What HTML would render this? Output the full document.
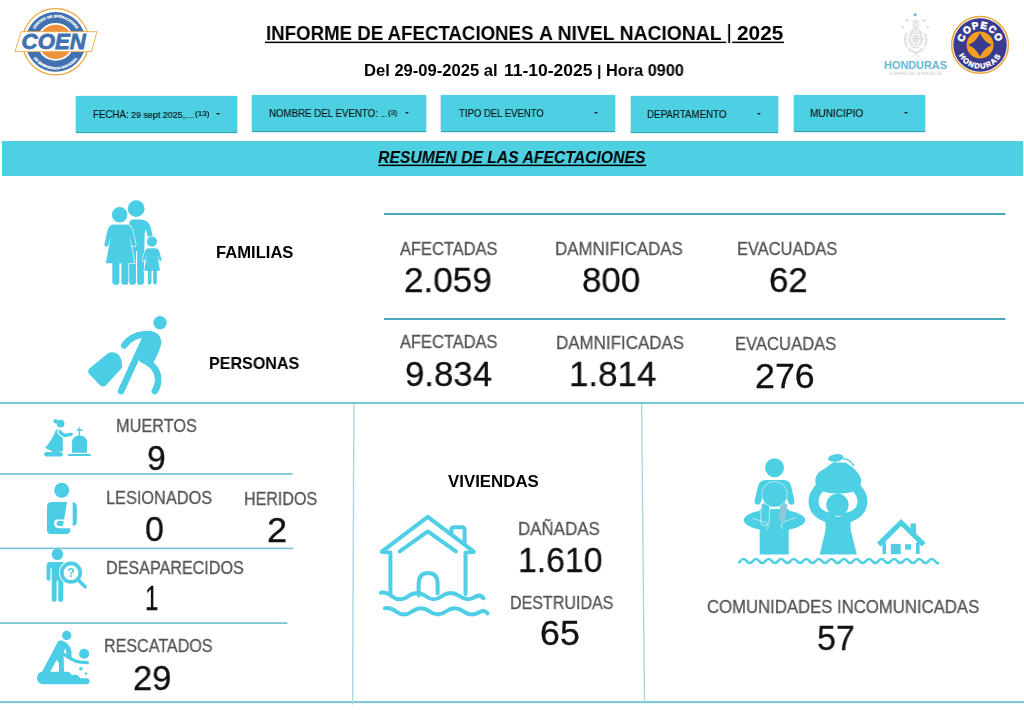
<!DOCTYPE html>
<html lang="es">
<head>
<meta charset="utf-8">
<title>Informe de afectaciones a nivel nacional | 2025</title>
<style>
html,body{margin:0;padding:0;background:#fff;}
body{width:1024px;height:710px;position:relative;overflow:hidden;font-family:"Liberation Sans",sans-serif;}
.t{position:absolute;white-space:nowrap;line-height:1;transform-origin:0 0;margin:0;padding:0;will-change:transform;}
.btn{position:absolute;background:#4dd0e1;height:36px;box-shadow:0 1px 1px rgba(40,160,178,.95),0 0 1.5px rgba(0,60,70,.2);}
.car{position:absolute;width:0;height:0;border-left:2.1px solid transparent;border-right:2.1px solid transparent;border-top:2.2px solid rgba(0,0,0,.82);}
#bannerbg{position:absolute;left:2px;top:141px;width:1021px;height:34.5px;background:#4dd0e1;}
svg{position:absolute;overflow:visible;}
h1{font-size:inherit;}
header,nav,main{display:block;margin:0;padding:0;}
</style>
</head>
<body>
<header>
<!-- COEN logo -->
<svg style="left:10px;top:6px;width:100px;height:80px;" viewBox="0 0 888 710" font-family="Liberation Sans, sans-serif">
  <defs>
    <path id="coenTop" d="M188,318 A217,217 0 0 1 622,318"/>
    <path id="coenBot" d="M160,318 A245,245 0 0 0 650,318"/>
  </defs>
  <circle cx="405" cy="318" r="294" fill="none" stroke="#eaa83f" stroke-width="11"/>
  <circle cx="405" cy="318" r="266" fill="#4171ae"/>
  <circle cx="405" cy="318" r="168" fill="#fff"/>
  <circle cx="405" cy="318" r="152" fill="#ee9140"/>
  <text font-size="31" font-weight="700" fill="#fff" stroke="#fff" stroke-width="2" text-anchor="middle" letter-spacing="1"><textPath href="#coenTop" startOffset="50%">CENTRO DE OPERACIONES</textPath></text>
  <text font-size="31" font-weight="700" fill="#fff" stroke="#fff" stroke-width="2" text-anchor="middle" letter-spacing="1"><textPath href="#coenBot" startOffset="50%">DE EMERGENCIA NACIONAL</textPath></text>
  <path d="M98,228 L772,228 L724,405 L44,405 Z" fill="#fff" stroke="#eaa83f" stroke-width="8" stroke-linejoin="round"/>
  <text x="103" y="385" font-size="204" font-weight="700" font-style="italic" fill="#4171ae" stroke="#4171ae" stroke-width="7" textLength="570" lengthAdjust="spacingAndGlyphs">COEN</text>
</svg>
<!-- HONDURAS crest -->
<svg style="left:878px;top:6px;width:72px;height:80px;" viewBox="0 0 639 710" font-family="Liberation Sans, sans-serif">
  <g fill="#66b4cf">
    <path id="st" d="M330,58 L335,72 L350,72 L338,81 L343,96 L330,87 L317,96 L322,81 L310,72 L325,72 Z"/>
  </g>
  <g fill="#a5cddb">
    <path d="M258,116 L262,125 L271,125 L264,131 L267,140 L258,134 L249,140 L252,131 L245,125 L254,125 Z"/>
    <path d="M405,116 L409,125 L418,125 L411,131 L414,140 L405,134 L396,140 L399,131 L392,125 L401,125 Z"/>
    <path d="M218,176 L222,185 L231,185 L224,191 L227,200 L218,194 L209,200 L212,191 L205,185 L214,185 Z"/>
    <path d="M442,176 L446,185 L455,185 L448,191 L451,200 L442,194 L433,200 L436,191 L429,185 L438,185 Z"/>
    <path d="M285,372 L288,379 L296,379 L290,384 L292,392 L285,387 L278,392 L280,384 L274,379 L282,379 Z"/>
    <path d="M382,372 L385,379 L393,379 L387,384 L389,392 L382,387 L375,392 L377,384 L371,379 L379,379 Z"/>
  </g>
  <g fill="none" stroke="#b8b8b8" stroke-width="5" stroke-linecap="round">
    <ellipse cx="335" cy="292" rx="60" ry="80"/>
    <ellipse cx="335" cy="292" rx="46" ry="64" stroke="#c6c6c6"/>
    <ellipse cx="335" cy="292" rx="26" ry="30" stroke="#bfbfbf"/>
    <path d="M300,290 L370,290 M335,250 L335,335 M312,262 L358,320 M358,262 L312,320" stroke="#c0c0c0" stroke-width="4"/>
    <path d="M296,248 Q335,228 374,248 M296,338 Q335,358 374,338" stroke="#c9c9c9" stroke-width="4"/>
    <path d="M256,232 Q228,300 258,366 Q288,412 335,414 Q382,412 412,366 Q442,300 414,232" stroke="#c4c4c4"/>
    <path d="M240,252 Q222,300 244,350 M430,252 Q448,300 426,350" stroke="#cfcfcf" stroke-width="4"/>
    <path d="M312,132 L358,132 L354,150 L360,168 L350,198 L320,198 L310,168 L316,150 Z" stroke="#bcbcbc"/>
    <path d="M322,150 L348,150 M320,172 L350,172 M335,132 L335,198" stroke="#c8c8c8" stroke-width="4"/>
    <path d="M318,198 Q298,214 284,236 M352,198 Q372,214 386,236" stroke="#c2c2c2"/>
    <path d="M236,268 L264,258 M234,300 L262,296 M238,334 L268,324 M434,268 L406,258 M436,300 L408,296 M432,334 L402,324" stroke="#cacaca" stroke-width="4"/>
    <path d="M304,394 L364,450 M366,394 L306,450" stroke="#bdbdbd" stroke-width="5"/>
    <path d="M268,392 Q300,408 320,404 M402,392 Q370,408 350,404" stroke="#cdcdcd" stroke-width="4"/>
  </g>
  <text x="54" y="558" font-size="96" font-weight="700" fill="#6cb7d0" textLength="558" lengthAdjust="spacingAndGlyphs">HONDURAS</text>
  <text x="100" y="608" font-size="27" fill="#b9b9b9" textLength="460" lengthAdjust="spacing">GOBIERNO DE LA REPÚBLICA</text>
</svg>
<!-- COPECO logo -->
<svg style="left:944px;top:8px;width:72px;height:76px;" viewBox="0 0 673 710" font-family="Liberation Sans, sans-serif">
  <defs>
    <path id="copTop" d="M183,345 A154,154 0 0 1 491,345"/>
    <path id="copBot" d="M116,345 A221,221 0 0 0 558,345"/>
  </defs>
  <circle cx="337" cy="345" r="265" fill="#fff" stroke="#e9a53c" stroke-width="14"/>
  <circle cx="337" cy="345" r="250" fill="#3a3a8e"/>
  <circle cx="337" cy="345" r="126" fill="#f49d20"/>
  <path d="M337,236 Q375,318 446,345 Q375,372 337,454 Q299,372 228,345 Q299,318 337,236 Z" fill="#3a3a8e"/>
  <text font-size="92" font-weight="700" fill="#fff" stroke="#fff" stroke-width="6" text-anchor="middle" letter-spacing="7"><textPath href="#copTop" startOffset="50%">COPECO</textPath></text>
  <text font-size="70" font-weight="700" fill="#fff" stroke="#fff" stroke-width="3.5" text-anchor="middle" letter-spacing="11"><textPath href="#copBot" startOffset="50%">HONDURAS</textPath></text>
</svg>
<h1 id="t1" class="t" style="left:265.69px;top:23.15px;font-size:20.8px;font-weight:700;font-style:normal;color:#000;transform:scaleX(0.8971);">INFORME DE AFECTACIONES</h1>
<div id="t2" class="t" style="left:539.15px;top:23.15px;font-size:20.8px;font-weight:700;font-style:normal;color:#000;transform:scaleX(0.9292);">A NIVEL NACIONAL</div>
<div id="t3" class="t" style="left:727.39px;top:22.50px;font-size:19.5px;font-weight:700;font-style:normal;color:#000;transform:scaleX(0.7925);">|</div>
<div id="t4" class="t" style="left:736.81px;top:23.15px;font-size:20.8px;font-weight:700;font-style:normal;color:#000;transform:scaleX(0.9980);">2025</div>
<div id="s1" class="t" style="left:363.89px;top:61.53px;font-size:16.4px;font-weight:700;font-style:normal;color:#000;transform:scaleX(1.0113);">Del 29-09-2025 al</div>
<div id="s2" class="t" style="left:504.12px;top:61.53px;font-size:16.4px;font-weight:700;font-style:normal;color:#000;transform:scaleX(1.0661);">11-10-2025</div>
<div id="s3" class="t" style="left:596.92px;top:63.17px;font-size:15.4px;font-weight:700;font-style:normal;color:#000;transform:scaleX(1.0462);">|</div>
<div id="s4" class="t" style="left:606.02px;top:61.53px;font-size:16.4px;font-weight:700;font-style:normal;color:#000;transform:scaleX(0.9934);">Hora 0900</div>
</header>
<nav aria-label="Filtros">
<div class="btn" style="left:75.5px;top:96px;width:161.5px;"><div class="car" style="right:16.9px;top:17.3px;"></div></div>
<div class="btn" style="left:251.5px;top:95px;width:174px;"><div class="car" style="right:16.9px;top:17.4px;"></div></div>
<div class="btn" style="left:441px;top:95px;width:174px;"><div class="car" style="right:16.9px;top:17.4px;"></div></div>
<div class="btn" style="left:630.5px;top:96px;width:147.3px;"><div class="car" style="right:16.9px;top:17.3px;"></div></div>
<div class="btn" style="left:793.7px;top:95px;width:131px;"><div class="car" style="right:16.9px;top:17.4px;"></div></div>
<div id="b1a" class="t" style="left:92.71px;top:109.48px;font-size:10.9px;font-weight:400;font-style:normal;color:rgba(0,0,0,.87);transform:scaleX(0.8886);-webkit-text-stroke:.18px rgba(0,0,0,.87);">FECHA:</div>
<div id="b1b" class="t" style="left:130.70px;top:110.83px;font-size:9.3px;font-weight:400;font-style:normal;color:rgba(0,0,0,.87);transform:scaleX(0.9596);-webkit-text-stroke:.18px rgba(0,0,0,.87);">29 sept 2025,…</div>
<div id="b1c" class="t" style="left:194.90px;top:109.93px;font-size:8.0px;font-weight:400;font-style:normal;color:rgba(0,0,0,.87);transform:scaleX(1.0116);-webkit-text-stroke:.18px rgba(0,0,0,.87);">(13)</div>
<div id="b2a" class="t" style="left:269.23px;top:107.58px;font-size:10.9px;font-weight:400;font-style:normal;color:rgba(0,0,0,.87);transform:scaleX(0.8895);-webkit-text-stroke:.18px rgba(0,0,0,.87);">NOMBRE DEL EVENTO:</div>
<div id="b2b" class="t" style="left:379.80px;top:109.93px;font-size:9.3px;font-weight:400;font-style:normal;color:rgba(0,0,0,.87);transform:scaleX(0.7794);-webkit-text-stroke:.18px rgba(0,0,0,.87);">…</div>
<div id="b2c" class="t" style="left:388.10px;top:109.03px;font-size:8.0px;font-weight:400;font-style:normal;color:rgba(0,0,0,.87);transform:scaleX(0.9500);-webkit-text-stroke:.18px rgba(0,0,0,.87);">(3)</div>
<div id="b3a" class="t" style="left:459.00px;top:107.58px;font-size:10.9px;font-weight:400;font-style:normal;color:rgba(0,0,0,.87);transform:scaleX(0.8753);-webkit-text-stroke:.18px rgba(0,0,0,.87);">TIPO DEL EVENTO</div>
<div id="b4a" class="t" style="left:647.20px;top:108.58px;font-size:10.9px;font-weight:400;font-style:normal;color:rgba(0,0,0,.87);transform:scaleX(0.8957);-webkit-text-stroke:.18px rgba(0,0,0,.87);">DEPARTAMENTO</div>
<div id="b5a" class="t" style="left:810.20px;top:107.58px;font-size:10.9px;font-weight:400;font-style:normal;color:rgba(0,0,0,.87);transform:scaleX(0.9255);-webkit-text-stroke:.18px rgba(0,0,0,.87);">MUNICIPIO</div>
</nav>
<main>
<div id="bannerbg"></div>
<svg style="left:0;top:0;width:1024px;height:710px;" viewBox="0 0 1024 710">
  <rect x="384" y="213" width="621.4" height="2" fill="#4ba7bb"/>
  <rect x="384" y="318" width="621.4" height="2" fill="#4ba7bb"/>
  <rect x="0" y="402" width="1024" height="2" fill="#7bc6d6"/>
  <rect x="0" y="701.1" width="1024" height="2" fill="#7bc6d6"/>
  <rect x="0" y="473.1" width="292.7" height="1.8" fill="#7cc6d8"/>
  <rect x="0" y="547.6" width="293.4" height="1.6" fill="#74c1d4"/>
  <rect x="0" y="622.2" width="287.4" height="1.8" fill="#7cc6d8"/>
  <line x1="353.9" y1="404" x2="352.6" y2="704.5" stroke="#a6d5e0" stroke-width="1.35"/>
  <line x1="641.6" y1="404" x2="644.5" y2="702" stroke="#a6d5e0" stroke-width="1.35"/>
  <rect x="265" y="41.6" width="461.2" height="1.5" fill="#000"/>
  <rect x="732.2" y="41.6" width="51.8" height="1.5" fill="#000"/>
  <rect x="378.4" y="164.6" width="267.8" height="1.5" fill="#000"/>
</svg>
<!-- family icon -->
<svg style="left:96px;top:192px;width:80px;height:100px;" viewBox="0 0 568 710" fill="#4ccde6">
  <circle cx="285" cy="118" r="60"/>
  <path d="M262,195 L318,195 Q372,195 388,250 L404,318 Q406,338 390,338 Q376,338 370,322 L352,262 L345,300 L340,640 Q340,658 316,658 Q292,658 292,640 L292,420 L284,420 L284,640 Q284,658 260,658 Q236,658 236,640 L232,250 Q232,195 262,195 Z"/>
  <g stroke="#fff" stroke-width="9" paint-order="stroke">
  <circle cx="168" cy="162" r="55"/>
  <path d="M132,230 L208,230 Q250,230 260,272 L282,368 Q284,388 270,388 Q256,388 252,372 L236,310 L274,505 L230,505 L230,640 Q230,658 205,658 Q180,658 180,640 L180,505 L166,505 L166,640 Q166,658 141,658 Q116,658 116,640 L116,505 L70,505 L106,310 L90,372 Q86,388 72,388 Q56,388 60,368 L82,272 Q92,230 132,230 Z"/>
  <circle cx="397" cy="352" r="36"/>
  <path d="M378,400 L418,400 Q444,400 450,424 L465,478 Q467,490 458,490 Q449,490 446,480 L436,445 L454,560 L432,560 L432,645 Q432,658 419,658 Q406,658 406,645 L406,560 L394,560 L394,645 Q394,658 381,658 Q368,658 368,645 L368,560 L342,560 L360,445 L350,480 Q347,490 338,490 Q329,490 331,478 L346,424 Q352,400 378,400 Z"/>
  </g>
</svg>
<!-- person with luggage -->
<svg style="left:84px;top:310px;width:90px;height:90px;" viewBox="0 0 710 710" fill="#4ccde6">
  <circle cx="600" cy="100" r="53"/>
  <path d="M318,280 Q380,188 520,190" fill="none" stroke="#4ccde6" stroke-width="52" stroke-linecap="round"/>
  <path d="M455,200 Q470,168 520,165 Q600,170 612,250 Q610,300 545,420 L485,428 L436,405 Z"/>
  <path d="M478,235 L292,640" fill="none" stroke="#4ccde6" stroke-width="52" stroke-linecap="round"/>
  <path d="M470,395 Q590,450 585,560 Q580,610 558,640" fill="none" stroke="#4ccde6" stroke-width="52" stroke-linecap="round"/>
  <path d="M42,462 L185,345 Q230,320 268,350 Q302,380 300,440 L300,455 L172,595 Q150,612 128,595 L40,505 Q25,482 42,462 Z"/>
</svg>
<!-- muertos -->
<svg style="left:40px;top:412px;width:60px;height:50px;" viewBox="0 0 852 710" fill="#4ccde6">
  <circle cx="292" cy="165" r="56"/>
  <circle cx="222" cy="132" r="32"/>
  <path d="M222,262 Q235,245 262,250 L300,262 Q318,300 322,380 L326,555 Q250,575 180,565 L72,508 Q170,400 222,262 Z"/>
  <path d="M285,282 Q330,335 360,332 L442,318" fill="none" stroke="#fff" stroke-width="78" stroke-linecap="round"/>
  <path d="M285,282 Q330,335 360,332 L442,318" fill="none" stroke="#4ccde6" stroke-width="48" stroke-linecap="round"/>
  <rect x="58" y="568" width="265" height="64" rx="32"/>
  <path d="M455,580 L455,440 Q455,338 560,335 Q668,338 668,440 L668,580 Z"/>
  <rect x="550" y="215" width="20" height="130"/>
  <rect x="518" y="245" width="88" height="20" rx="6"/>
  <rect x="398" y="597" width="324" height="28" rx="6"/>
</svg>
<!-- lesionados -->
<svg style="left:36px;top:478px;width:60px;height:62px;" viewBox="0 0 687 710" fill="#4ccde6">
  <circle cx="295" cy="140" r="86"/>
  <path d="M180,275 L356,275 L322,476 L245,476 Q206,478 206,518 Q208,574 270,576 L392,576 L392,598 Q390,640 348,640 L168,640 Q125,640 125,598 L125,330 Q125,275 180,275 Z"/>
  <path d="M262,492 L318,492 L308,550 L268,550 Q236,548 236,518 Q238,492 262,492 Z"/>
  <path d="M420,275 Q468,280 468,330 L468,500 Q466,545 420,548 Z"/>
</svg>
<!-- desaparecidos -->
<svg style="left:38px;top:544px;width:60px;height:62px;" viewBox="0 0 687 710" fill="#4ccde6">
  <circle cx="222" cy="118" r="66"/>
  <path d="M140,205 L300,205 L290,420 L288,640 Q286,662 260,662 Q234,662 232,640 L232,420 L214,420 L212,640 Q210,662 185,662 Q160,662 158,640 L156,280 L142,280 L142,400 Q140,422 120,422 Q100,420 98,400 L98,250 Q100,205 140,205 Z"/>
  <circle cx="378" cy="328" r="138" fill="#fff"/>
  <circle cx="378" cy="328" r="106" fill="#fff" stroke="#4ccde6" stroke-width="42"/>
  <path d="M462,412 L540,490" fill="none" stroke="#4ccde6" stroke-width="40" stroke-linecap="round"/>
  <text x="378" y="380" font-family="Liberation Sans, sans-serif" font-weight="700" font-size="140" text-anchor="middle">?</text>
</svg>
<!-- rescatados -->
<svg style="left:32px;top:626px;width:64px;height:64px;" viewBox="0 0 710 710" fill="#4ccde6">
  <circle cx="385" cy="105" r="51"/>
  <path d="M318,205 L150,520" fill="none" stroke="#4ccde6" stroke-width="82" stroke-linecap="round"/>
  <path d="M282,180 Q300,155 340,165 Q400,190 430,250 Q445,290 440,345 L395,368 L380,300 L372,248 L345,300 L352,360 L355,520 L300,520 L298,420 Q290,380 240,350 Z"/>
  <path d="M350,312 L440,368 Q490,398 540,402 L615,405" fill="none" stroke="#4ccde6" stroke-width="36" stroke-linecap="round"/>
  <circle cx="578" cy="308" r="56"/>
  <circle cx="543" cy="475" r="20"/>
  <circle cx="600" cy="528" r="14"/>
  <path d="M110,508 L400,508 Q432,518 442,545 Q480,532 510,548 Q528,560 532,580 L600,580 Q640,584 640,613 Q640,645 600,647 L120,647 Q55,640 55,578 Q60,514 110,508 Z"/>
</svg>
<!-- viviendas -->
<svg style="left:374px;top:508px;width:120px;height:114px;" viewBox="0 0 747 710" fill="none" stroke="#50cee6" stroke-width="25" stroke-linecap="round" stroke-linejoin="round">
  <path d="M102,535 L102,278 L48,272 L335,55 L622,272 L570,278 L570,535"/>
  <path d="M160,270 L335,145 L510,270"/>
  <path d="M482,160 L482,136 Q482,120 500,120 L548,120 Q564,120 564,136 L564,222"/>
  <path d="M278,545 L278,470 Q280,405 337,405 Q394,405 396,470 L396,532"/>
  <path d="M42,528 Q78,522 112,550 Q162,588 215,548 Q268,510 320,548 Q372,588 425,548 Q478,510 530,548 Q582,586 632,552 Q662,536 682,562"/>
  <path d="M68,624 Q104,618 138,646 Q188,682 240,643 Q292,606 345,643 Q397,682 450,643 Q502,606 555,643 Q607,680 658,648 Q688,632 707,656"/>
</svg>
<!-- comunidades incomunicadas -->
<svg style="left:0;top:0;width:1024px;height:710px;" viewBox="0 0 1024 710" fill="#4dcfe4">
 <path d="M739.36,562.2 L740.36,561.0 q3.138,-4.0 6.275,0 t6.275,0 t6.275,0 t6.275,0 t6.275,0 t6.275,0 t6.275,0 t6.275,0 t6.275,0 t6.275,0 t6.275,0 t6.275,0 t6.275,0 t6.275,0 t6.275,0 t6.275,0 t6.275,0 t6.275,0 t6.275,0 t6.275,0 t6.275,0 t6.275,0 t6.275,0 t6.275,0 t6.275,0 t6.275,0 t6.275,0 t6.275,0 t6.275,0 t6.275,0 t6.275,0 q1.6,2.0 3.1,2.1" fill="none" stroke="#4dcfe4" stroke-width="2.7" stroke-linecap="round" stroke-linejoin="round"/>
 <g transform="translate(736,450) scale(0.16908)">
  <circle cx="228" cy="105" r="56"/>
  <ellipse cx="228" cy="415" rx="182" ry="64"/>
  <rect x="140" y="350" width="172" height="268"/>
  <path d="M175,178 L282,178 Q318,180 326,215 L346,300 Q348,322 330,324 Q314,324 308,305 L290,250 L290,330 L165,330 L165,250 L148,305 Q142,324 126,324 Q108,322 110,300 L130,215 Q138,180 175,178 Z"/>
  <path d="M150,318 L200,318 L196,430 Q190,450 170,448 Q148,445 146,425 Z" stroke="#d9f1f7" stroke-width="5"/>
  <path d="M262,325 L305,320 L292,405 Q285,425 268,425 Q250,420 252,400 Z" fill="#8cc7dc"/>
  <circle cx="228" cy="262" r="76" stroke="#c9ecf4" stroke-width="5"/>
  <path d="M100,405 Q150,420 185,432 Q198,450 185,468" fill="none" stroke="#c9ecf4" stroke-width="5" stroke-linecap="round"/>
  <path d="M352,400 Q310,415 275,428 Q262,445 272,465" fill="none" stroke="#c9ecf4" stroke-width="5" stroke-linecap="round"/>
  <!-- woman with bundle -->
  <path d="M470,195 Q462,140 520,112 L575,72 L650,76 Q722,120 740,170 Q748,215 702,246 Q600,272 500,242 Q472,228 470,195 Z"/>
  <ellipse cx="590" cy="47" rx="46" ry="22" transform="rotate(-8 590 47)"/>
  <path d="M635,52 Q675,55 695,92" fill="none" stroke="#4dcfe4" stroke-width="8" stroke-linecap="round"/>
  <path d="M488,232 Q440,290 470,350 Q500,395 560,400" fill="none" stroke="#4dcfe4" stroke-width="58" stroke-linecap="round"/>
  <path d="M718,232 Q766,290 736,350 Q706,395 646,400" fill="none" stroke="#4dcfe4" stroke-width="58" stroke-linecap="round"/>
  <circle cx="600" cy="325" r="66"/>
  <path d="M520,395 L686,395 Q672,440 680,480 L715,618 L495,618 L528,480 Q535,440 520,395 Z"/>
 </g>
 <g transform="translate(846,500) scale(0.09862)">
  <path d="M332,452 L558,228 L788,452" fill="none" stroke="#4dcfe4" stroke-width="52" stroke-linecap="butt" stroke-linejoin="miter"/>
  <rect x="655" y="238" width="55" height="110"/>
  <rect x="370" y="430" width="36" height="118"/>
  <rect x="710" y="430" width="36" height="118"/>
  <rect x="455" y="445" width="100" height="104"/>
  <rect x="600" y="448" width="60" height="56"/>
 </g>
</svg>
<div id="banner" class="t" style="left:378.38px;top:149.06px;font-size:17.3px;font-weight:700;font-style:italic;color:#000;transform:scaleX(0.9102);">RESUMEN DE LAS AFECTACIONES</div>
<div id="fam" class="t" style="left:215.92px;top:244.96px;font-size:16.6px;font-weight:700;font-style:normal;color:#000;transform:scaleX(0.9999);">FAMILIAS</div>
<div id="per" class="t" style="left:209.09px;top:355.86px;font-size:16.6px;font-weight:700;font-style:normal;color:#000;transform:scaleX(0.9696);">PERSONAS</div>
<div id="a1" class="t" style="left:400.00px;top:240.73px;font-size:17.7px;font-weight:400;font-style:normal;color:#535353;transform:scaleX(0.9297);-webkit-text-stroke:.28px #535353;">AFECTADAS</div>
<div id="n1" class="t" style="left:404.02px;top:262.77px;font-size:35.7px;font-weight:400;font-style:normal;color:#111;transform:scaleX(0.9832);-webkit-text-stroke:.28px #111;">2.059</div>
<div id="d1" class="t" style="left:554.74px;top:241.23px;font-size:17.7px;font-weight:400;font-style:normal;color:#535353;transform:scaleX(0.9571);-webkit-text-stroke:.28px #535353;">DAMNIFICADAS</div>
<div id="n2" class="t" style="left:581.87px;top:262.67px;font-size:35.7px;font-weight:400;font-style:normal;color:#111;transform:scaleX(0.9768);-webkit-text-stroke:.28px #111;">800</div>
<div id="e1" class="t" style="left:736.92px;top:241.23px;font-size:17.7px;font-weight:400;font-style:normal;color:#535353;transform:scaleX(0.9304);-webkit-text-stroke:.28px #535353;">EVACUADAS</div>
<div id="n3" class="t" style="left:769.05px;top:262.67px;font-size:35.7px;font-weight:400;font-style:normal;color:#111;transform:scaleX(0.9766);-webkit-text-stroke:.28px #111;">62</div>
<div id="a2" class="t" style="left:400.00px;top:334.43px;font-size:17.7px;font-weight:400;font-style:normal;color:#535353;transform:scaleX(0.9297);-webkit-text-stroke:.28px #535353;">AFECTADAS</div>
<div id="n4" class="t" style="left:405.48px;top:357.27px;font-size:35.7px;font-weight:400;font-style:normal;color:#111;transform:scaleX(0.9752);-webkit-text-stroke:.28px #111;">9.834</div>
<div id="d2" class="t" style="left:555.98px;top:334.73px;font-size:17.7px;font-weight:400;font-style:normal;color:#535353;transform:scaleX(0.9587);-webkit-text-stroke:.28px #535353;">DAMNIFICADAS</div>
<div id="n5" class="t" style="left:568.79px;top:356.67px;font-size:35.7px;font-weight:400;font-style:normal;color:#111;transform:scaleX(0.9783);-webkit-text-stroke:.28px #111;">1.814</div>
<div id="e2" class="t" style="left:734.74px;top:335.73px;font-size:17.7px;font-weight:400;font-style:normal;color:#535353;transform:scaleX(0.9394);-webkit-text-stroke:.28px #535353;">EVACUADAS</div>
<div id="n6" class="t" style="left:754.63px;top:359.17px;font-size:35.7px;font-weight:400;font-style:normal;color:#111;transform:scaleX(1.0019);-webkit-text-stroke:.28px #111;">276</div>
<div id="mu" class="t" style="left:115.55px;top:417.63px;font-size:17.7px;font-weight:400;font-style:normal;color:#535353;transform:scaleX(0.9216);-webkit-text-stroke:.28px #535353;">MUERTOS</div>
<div id="n7" class="t" style="left:147.25px;top:441.17px;font-size:35.7px;font-weight:400;font-style:normal;color:#111;transform:scaleX(0.9421);-webkit-text-stroke:.28px #111;">9</div>
<div id="le" class="t" style="left:105.55px;top:490.23px;font-size:17.7px;font-weight:400;font-style:normal;color:#535353;transform:scaleX(0.9227);-webkit-text-stroke:.28px #535353;">LESIONADOS</div>
<div id="n8" class="t" style="left:145.09px;top:511.87px;font-size:35.7px;font-weight:400;font-style:normal;color:#111;transform:scaleX(0.9500);-webkit-text-stroke:.28px #111;">0</div>
<div id="he" class="t" style="left:243.64px;top:491.23px;font-size:17.7px;font-weight:400;font-style:normal;color:#535353;transform:scaleX(0.9080);-webkit-text-stroke:.28px #535353;">HERIDOS</div>
<div id="n9" class="t" style="left:266.78px;top:513.37px;font-size:35.7px;font-weight:400;font-style:normal;color:#111;transform:scaleX(1.0166);-webkit-text-stroke:.28px #111;">2</div>
<div id="de" class="t" style="left:105.66px;top:559.93px;font-size:17.7px;font-weight:400;font-style:normal;color:#535353;transform:scaleX(0.9120);-webkit-text-stroke:.28px #535353;">DESAPARECIDOS</div>
<div id="n10" class="t" style="left:145.31px;top:581.07px;font-size:35.7px;font-weight:400;font-style:normal;color:#111;transform:scaleX(0.6780);-webkit-text-stroke:.28px #111;">1</div>
<div id="re" class="t" style="left:103.64px;top:637.93px;font-size:17.7px;font-weight:400;font-style:normal;color:#535353;transform:scaleX(0.9100);-webkit-text-stroke:.28px #535353;">RESCATADOS</div>
<div id="n11" class="t" style="left:132.53px;top:661.37px;font-size:35.7px;font-weight:400;font-style:normal;color:#111;transform:scaleX(0.9686);-webkit-text-stroke:.28px #111;">29</div>
<div id="vi" class="t" style="left:448.10px;top:474.26px;font-size:16.6px;font-weight:700;font-style:normal;color:#000;transform:scaleX(1.0149);">VIVIENDAS</div>
<div id="da" class="t" style="left:517.84px;top:520.53px;font-size:17.7px;font-weight:400;font-style:normal;color:#535353;transform:scaleX(0.9561);-webkit-text-stroke:.28px #535353;">DAÑADAS</div>
<div id="n12" class="t" style="left:517.75px;top:542.57px;font-size:35.7px;font-weight:400;font-style:normal;color:#111;transform:scaleX(0.9463);-webkit-text-stroke:.28px #111;">1.610</div>
<div id="ds" class="t" style="left:510.25px;top:594.73px;font-size:17.7px;font-weight:400;font-style:normal;color:#535353;transform:scaleX(0.9065);-webkit-text-stroke:.28px #535353;">DESTRUIDAS</div>
<div id="n13" class="t" style="left:539.78px;top:615.87px;font-size:35.7px;font-weight:400;font-style:normal;color:#111;transform:scaleX(1.0017);-webkit-text-stroke:.28px #111;">65</div>
<div id="co" class="t" style="left:707.36px;top:599.43px;font-size:17.7px;font-weight:400;font-style:normal;color:#535353;transform:scaleX(0.9454);-webkit-text-stroke:.28px #535353;">COMUNIDADES INCOMUNICADAS</div>
<div id="n14" class="t" style="left:816.52px;top:620.77px;font-size:35.7px;font-weight:400;font-style:normal;color:#111;transform:scaleX(0.9565);-webkit-text-stroke:.28px #111;">57</div>
</main>
</body>
</html>
